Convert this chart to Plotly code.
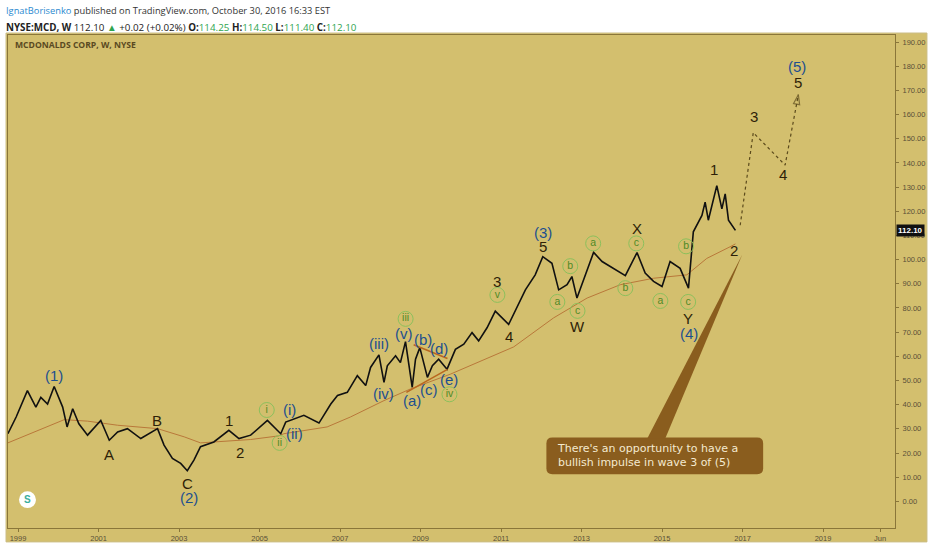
import plotly.graph_objects as go
from datetime import datetime

# ---------------- data ----------------
price_dates = [
    "1998-10-01", "1998-12-15", "1999-03-27", "1999-06-12", "1999-07-27", "1999-09-26",
    "1999-11-25", "2000-02-10", "2000-03-21", "2000-05-11", "2000-07-06", "2000-09-23",
    "2001-01-21", "2001-04-08", "2001-06-23", "2001-09-20", "2002-01-19", "2002-06-20",
    "2002-08-18", "2002-11-02", "2003-01-16", "2003-03-17", "2003-05-16", "2003-07-15",
    "2003-11-13", "2004-03-28", "2004-06-28", "2004-10-12", "2005-03-13", "2005-07-12",
    "2005-08-26", "2006-02-07", "2006-06-24", "2006-10-09", "2006-12-09", "2007-03-08",
    "2007-06-07", "2007-08-22", "2007-10-05", "2007-12-20", "2008-02-04", "2008-03-05",
    "2008-05-19", "2008-07-02", "2008-08-17", "2008-10-17", "2008-11-16", "2008-12-25",
    "2009-03-04", "2009-04-18", "2009-06-14", "2009-08-29", "2009-11-13", "2010-01-28",
    "2010-04-13", "2010-06-12", "2010-08-27", "2010-11-10", "2011-03-11", "2011-05-26",
    "2011-08-10", "2011-11-07", "2012-01-15", "2012-04-07", "2012-06-07", "2012-08-22",
    "2012-10-05", "2012-11-20", "2013-02-03", "2013-04-20", "2013-07-06", "2013-10-19",
    "2014-02-02", "2014-05-19", "2014-08-01", "2014-10-16", "2015-01-01", "2015-03-15",
    "2015-06-14", "2015-08-29", "2015-10-12", "2015-12-29", "2016-01-27", "2016-02-25",
    "2016-05-12", "2016-06-27", "2016-07-27", "2016-08-26", "2016-10-28",
]
price_values = [
    28.0, 34.9, 45.8, 39.0, 43.0, 40.3,
    47.5, 39.0, 30.8, 38.3, 32.1, 27.4,
    33.5, 25.3, 28.7, 30.1, 26.0, 30.1,
    23.3, 17.8, 15.7, 12.7, 17.1, 22.6,
    24.6, 29.4, 26.0, 27.4, 33.5, 28.0,
    32.8, 35.6, 32.4, 40.3, 43.8, 45.1,
    52.0, 47.9, 55.4, 60.6, 49.2, 56.1,
    60.2, 57.4, 66.1, 47.2, 58.8, 63.6,
    51.3, 56.1, 58.8, 54.7, 62.9, 65.0,
    69.8, 66.4, 71.8, 78.7, 73.2, 80.7,
    87.5, 93.7, 101.2, 98.5, 87.5, 89.6,
    93.0, 84.1, 93.7, 103.0, 99.2, 96.4,
    93.4, 102.9, 94.4, 91.0, 88.9, 99.2,
    96.4, 88.2, 111.5, 118.3, 123.8, 116.3,
    130.6, 121.0, 127.2, 116.3, 112.1,
]

ma_dates = [
    "1998-10-01", "1999-05-25", "2000-02-24", "2000-09-23", "2001-06-23", "2002-06-20",
    "2003-02-17", "2003-07-15", "2004-05-15", "2004-10-12", "2005-06-24", "2005-08-10",
    "2006-09-06", "2007-04-05", "2008-02-04", "2008-10-01", "2009-09-27", "2010-12-27",
    "2011-04-26", "2012-04-22", "2013-02-20", "2013-12-17", "2014-10-16", "2015-08-14",
    "2016-02-11", "2016-09-09", "2016-10-28",
]
ma_values = [
    24.2, 28.7, 33.8, 33.2, 31.5, 30.1,
    26.7, 24.2, 25.3, 25.6, 27.1, 28.0,
    30.8, 34.9, 41.7, 46.5, 52.6, 61.6,
    63.9, 75.9, 84.1, 89.6, 92.3, 93.7,
    100.5, 105.3, 106.5,
]

proj_dates = ["2016-12-10", "2017-04-08", "2018-01-22", "2018-05-22"]
proj_values = [114.2, 152.5, 139.1, 168.2]

x_tick_dates = ["1999-01-01", "2001-01-01", "2003-01-01", "2005-01-01", "2007-01-01",
                "2009-01-01", "2011-01-01", "2013-01-01", "2015-01-01", "2017-01-01",
                "2019-01-01", "2020-06-01"]
x_tick_text = ["1999", "2001", "2003", "2005", "2007", "2009", "2011", "2013", "2015",
               "2017", "2019", "Jun"]
y_tick_values = [0, 10, 20, 30, 40, 50, 60, 70, 80, 90, 100, 110, 120, 130, 140, 150,
                 160, 170, 180, 190]
last_price = 112.10

# wave labels: (text, decimal year, price level, kind)
wave_labels = [
    ("(1)", 1999.89, 52.1, "blue"), ("A", 2001.26, 19.3, "dark"), ("B", 2002.45, 33.6, "dark"),
    ("C", 2003.22, 7.4, "dark"), ("(2)", 2003.24, 1.6, "blue"), ("1", 2004.24, 33.6, "dark"),
    ("2", 2004.51, 20.1, "dark"), ("(i)", 2005.75, 38.2, "blue"), ("(ii)", 2005.87, 27.9, "blue"),
    ("(iii)", 2007.98, 65.2, "blue"), ("(iv)", 2008.08, 44.7, "blue"), ("(v)", 2008.60, 69.3, "blue"),
    ("(b)", 2009.05, 66.9, "blue"), ("(d)", 2009.45, 63.2, "blue"), ("(a)", 2008.78, 41.9, "blue"),
    ("(c)", 2009.22, 46.4, "blue"), ("(e)", 2009.72, 50.5, "blue"), ("3", 2010.91, 91.1, "dark"),
    ("4", 2011.21, 68.1, "dark"), ("(3)", 2012.05, 111.2, "blue"), ("5", 2012.05, 105.5, "dark"),
    ("W", 2012.90, 72.2, "dark"), ("X", 2014.38, 112.8, "dark"), ("Y", 2015.65, 75.5, "dark"),
    ("(4)", 2015.67, 69.3, "blue"), ("1", 2016.30, 137.1, "dark"), ("2", 2016.79, 103.8, "dark"),
    ("3", 2017.29, 159.2, "dark"), ("4", 2018.01, 135.0, "dark"), ("5", 2018.38, 173.2, "dark"),
    ("(5)", 2018.35, 179.7, "blue"),
]
circled_labels = [
    ("i", 2005.18, 37.8), ("ii", 2005.50, 24.2), ("iii", 2008.63, 75.5), ("iv", 2009.72, 44.3),
    ("v", 2010.91, 85.4), ("a", 2012.40, 82.5), ("b", 2012.72, 97.3), ("c", 2012.90, 78.8),
    ("a", 2013.29, 106.7), ("b", 2014.09, 88.2), ("c", 2014.36, 106.7), ("a", 2014.96, 82.9),
    ("b", 2015.60, 105.5), ("c", 2015.65, 82.5),
]
# triangle trend lines ((start year, start price), (end year, end price))
triangle_lines = [((2008.83, 64.8), (2009.67, 59.1)), ((2008.65, 45.1), (2009.67, 54.6))]


def dy(y):
    yr = int(y)
    a, b = datetime(yr, 1, 1), datetime(yr + 1, 1, 1)
    return (a + (b - a) * (y - yr)).strftime("%Y-%m-%d")


# ---------------- layout geometry helpers (pixels -> paper) ----------------
W, H = 932, 550
ML, MR, MT, MB = 7, 37, 35, 19
PW, PH = W - ML - MR, H - MT - MB


def px(x):
    return (x - ML) / PW


def py(y):
    return (H - MB - y) / PH


GOLD = "#D3BF6E"
AX = "#8a7639"
BLUE = "#1d4f8e"
DARK = "#2e1f08"
GREEN = "#4f8a26"

fig = go.Figure()

fig.add_trace(go.Scatter(x=ma_dates, y=ma_values, mode="lines",
                         line=dict(color="#b9783a", width=1), hoverinfo="skip"))
fig.add_trace(go.Scatter(x=price_dates, y=price_values, mode="lines",
                         line=dict(color="#111111", width=1.6)))
fig.add_trace(go.Scatter(x=proj_dates, y=proj_values, mode="lines+markers",
                         line=dict(color="#5b4a1c", width=1.2, dash="dot"),
                         marker=dict(symbol="arrow-open", angleref="previous",
                                     size=[0, 0, 0, 10], color="#5b4a1c",
                                     line=dict(color="#5b4a1c", width=1.2))))
fig.add_trace(go.Scatter(x=[dy(c[1]) for c in circled_labels], y=[c[2] for c in circled_labels],
                         mode="markers+text", text=[c[0] for c in circled_labels],
                         textposition="middle center",
                         textfont=dict(family="Liberation Sans", size=10.5, color=GREEN),
                         marker=dict(symbol="circle-open", size=15,
                                     line=dict(color="#8cbf5c", width=1), color="#8cbf5c")))

annotations = []
for t, xv, yv, kind in wave_labels:
    annotations.append(dict(x=dy(xv), y=yv, xref="x", yref="y", text=t, showarrow=False,
                            font=dict(family="Liberation Sans", size=15,
                                      color=BLUE if kind == "blue" else DARK)))

shapes = [
    # gold frame behind everything
    dict(type="rect", xref="paper", yref="paper", x0=px(5), x1=px(927), y0=py(545), y1=py(33),
         fillcolor=GOLD, line=dict(color="#cbbd86", width=1), layer="below"),
]
for (x0, y0), (x1, y1) in triangle_lines:
    shapes.append(dict(type="line", xref="x", yref="y", x0=dy(x0), y0=y0, x1=dy(x1), y1=y1,
                       line=dict(color="#b9671f", width=1.5)))

# callout box + pointer
bx0, bx1, by0, by1, r = 546, 763, 440, 477, 6
path = (f"M {px(bx0 + r)},{py(by0)} L {px(bx1 - r)},{py(by0)} "
        f"Q {px(bx1)},{py(by0)} {px(bx1)},{py(by0 + r)} L {px(bx1)},{py(by1 - r)} "
        f"Q {px(bx1)},{py(by1)} {px(bx1 - r)},{py(by1)} L {px(bx0 + r)},{py(by1)} "
        f"Q {px(bx0)},{py(by1)} {px(bx0)},{py(by1 - r)} L {px(bx0)},{py(by0 + r)} "
        f"Q {px(bx0)},{py(by0)} {px(bx0 + r)},{py(by0)} Z")
shapes.append(dict(type="path", xref="paper", yref="paper", path=path,
                   fillcolor="#8a5d1e", line=dict(width=0)))
wedge = f"M {px(647)},{py(441)} L {px(665)},{py(441)} L {px(742)},{py(256)} Z"
shapes.append(dict(type="path", xref="paper", yref="paper", path=wedge,
                   fillcolor="#8a5d1e", line=dict(width=0)))
# "S" badge
shapes.append(dict(type="circle", xref="paper", yref="paper", x0=px(18), x1=px(35),
                   y0=py(511), y1=py(494), fillcolor="white", line=dict(width=0)))

annotations += [
    dict(xref="paper", yref="paper", x=px(26.5), y=py(502.5), xanchor="center",
         yanchor="middle", text="<b>S</b>", showarrow=False,
         font=dict(family="Liberation Sans", size=10, color="#3aae9c")),
    dict(xref="paper", yref="paper", x=px(555), y=py(458.5), xanchor="left", yanchor="middle",
         align="left", showarrow=False,
         text="There's an opportunity to have a<br>bullish impulse in wave 3 of (5)",
         font=dict(family="DejaVu Sans", size=11, color="#f4ead0")),
    dict(xref="paper", yref="paper", x=px(12), y=py(45), xanchor="left", yanchor="middle",
         showarrow=False, text="<b>MCDONALDS CORP, W, NYSE</b>",
         font=dict(family="Open Sans", size=8.6, color="#5a4a22")),
    dict(xref="paper", yref="paper", x=px(3), y=py(10), xanchor="left", yanchor="middle",
         showarrow=False,
         text='<span style="color:#2a89cf">IgnatBorisenko</span> published on TradingView.com, '
              'October 30, 2016 16:33 EST',
         font=dict(family="Open Sans", size=9.3, color="#333333")),
    dict(xref="paper", yref="paper", x=px(3), y=py(27), xanchor="left", yanchor="middle",
         showarrow=False,
         text='<b>NYSE:MCD, W</b> 112.10 <span style="color:#2ea44f">▲</span> +0.02 (+0.02%) '
              '<b>O:</b><span style="color:#2ea44f">114.25</span> '
              '<b>H:</b><span style="color:#2ea44f">114.50</span> '
              '<b>L:</b><span style="color:#2ea44f">111.40</span> '
              '<b>C:</b><span style="color:#2ea44f">112.10</span>',
         font=dict(family="Open Sans", size=9.8, color="#222222")),
    dict(xref="paper", yref="y", x=1, y=last_price, xanchor="left", yanchor="middle", xshift=1,
         showarrow=False, text="<b>112.10</b>", bgcolor="#111111", borderpad=1,
         font=dict(family="Liberation Sans", size=8, color="white")),
]

fig.update_layout(
    width=W, height=H,
    margin=dict(l=ML, r=MR, t=MT, b=MB),
    paper_bgcolor="white", plot_bgcolor=GOLD,
    showlegend=False,
    shapes=shapes, annotations=annotations,
    xaxis=dict(type="date", range=[dy(1998.752), dy(2020.787)],
               tickvals=x_tick_dates, ticktext=x_tick_text,
               showgrid=False, zeroline=False, showline=True, linecolor=AX, mirror=True,
               ticks="outside", ticklen=3, tickcolor=AX,
               tickfont=dict(family="Liberation Sans", size=7.5, color="#5a5038")),
    yaxis=dict(side="right", range=[-11, 192.9], tickvals=y_tick_values, tickformat=".2f",
               showgrid=False, zeroline=False, showline=True, linecolor=AX, mirror=True,
               ticks="outside", ticklen=3, tickcolor=AX, ticklabelstandoff=2,
               tickfont=dict(family="Liberation Sans", size=7.5, color="#5a5038")),
)

fig.write_html("out.html", config={"displayModeBar": False},
               post_script="document.body.style.margin='0';")
